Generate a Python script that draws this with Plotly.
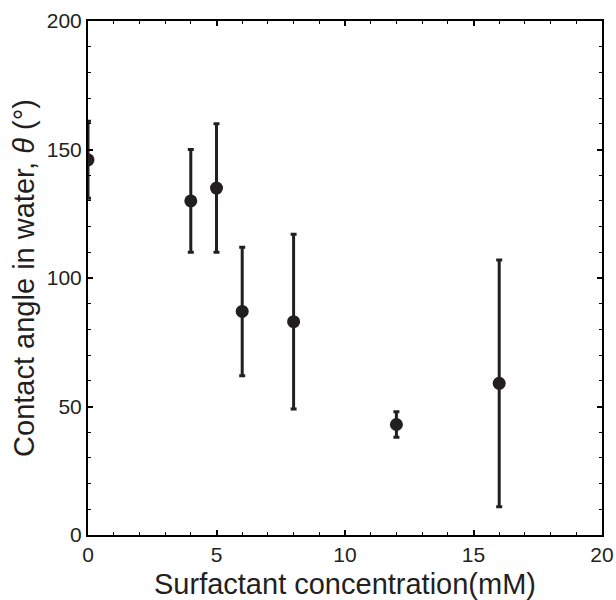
import plotly.graph_objects as go

# surfactant concentration (mM) vs contact angle (deg)
conc = [0, 4, 5, 6, 8, 12, 16]
angle = [146, 130, 135, 87, 83, 43, 59]
err_hi = [161, 150, 160, 112, 117, 48, 107]
err_lo = [131, 110, 110, 62, 49, 38, 11]

plus = [h - a for h, a in zip(err_hi, angle)]
minus = [a - l for a, l in zip(angle, err_lo)]

ink = '#231f20'
fnt = 'Liberation Sans, Arial'

fig = go.Figure()
fig.add_trace(go.Scatter(
    x=conc, y=angle, mode='markers',
    marker=dict(size=13, color=ink),
    error_y=dict(type='data', symmetric=False, array=plus, arrayminus=minus,
                 color=ink, thickness=3, width=3),
    showlegend=False,
))

axis_common = dict(
    showline=True, linecolor='black', linewidth=2, mirror='allticks',
    ticks='inside', ticklen=5, tickwidth=1.5, tickcolor='black',
    showgrid=False, zeroline=False, automargin=False,
    tickfont=dict(family=fnt, size=21, color=ink),
)

fig.update_xaxes(
    range=[0, 20], tick0=0, dtick=5,
    minor=dict(ticks='inside', dtick=1, ticklen=3, tickwidth=1.2, tickcolor='black'),
    title=dict(text='Surfactant concentration(mM)', standoff=8,
               font=dict(family=fnt, size=29, color=ink)),
    **axis_common)
fig.update_yaxes(
    range=[0, 200], tick0=0, dtick=50,
    minor=dict(ticks='inside', dtick=10, ticklen=3, tickwidth=1.2, tickcolor='black'),
    title=dict(text='Contact angle in water, <i>θ</i> (°)', standoff=4,
               font=dict(family=fnt, size=29, color=ink)),
    **axis_common)

fig.update_layout(
    width=616, height=600,
    margin=dict(l=88, r=14, t=21, b=65),
    plot_bgcolor='white', paper_bgcolor='white',
)

# drop the default page margin so the figure sits at the window corner
fig.write_html("out.html", config={'displayModeBar': False},
               post_script="document.body.style.margin='0';")
